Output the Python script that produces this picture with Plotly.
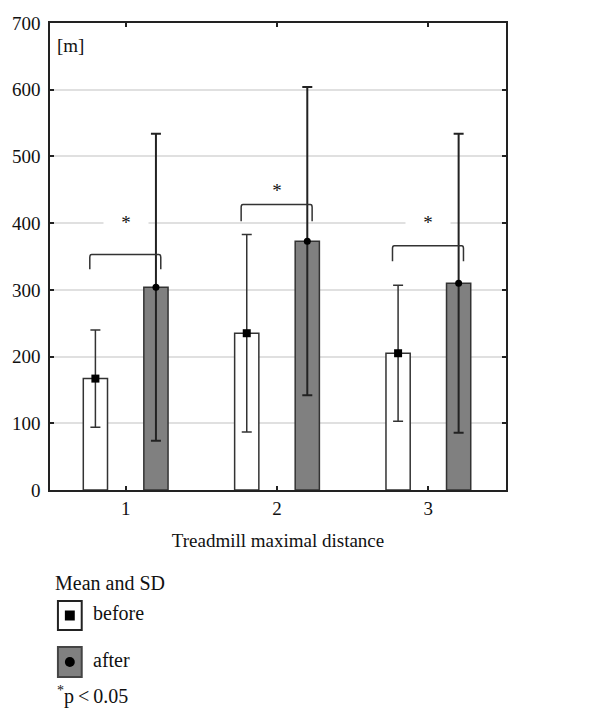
import plotly.graph_objects as go

categories = [1, 2, 3]
before_mean = [167, 235, 205]
before_sd = [73, 148, 102]
after_mean = [304, 373, 310]
after_sd = [230, 231, 224]
bracket_top = [353, 428, 366]
bracket_foot = [331, 403, 343]
star_y = [401, 450, 401]
y_ticks = [0, 100, 200, 300, 400, 500, 600, 700]

FONT = "Liberation Serif"
fig = go.Figure()

fig.add_trace(go.Bar(
    x=categories, y=before_mean, name="before", offsetgroup="b",
    marker=dict(color="white", line=dict(color="#333333", width=1.5)),
))
fig.add_trace(go.Bar(
    x=categories, y=after_mean, name="after", offsetgroup="a",
    marker=dict(color="#808080", line=dict(color="#333333", width=1.5)),
))
fig.add_trace(go.Scatter(
    x=categories, y=before_mean, mode="markers", offsetgroup="b",
    marker=dict(symbol="square", size=8, color="black"),
    error_y=dict(type="data", array=before_sd, color="#333333", thickness=1.5, width=5),
))
fig.add_trace(go.Scatter(
    x=categories, y=after_mean, mode="markers", offsetgroup="a",
    marker=dict(symbol="circle", size=7, color="black"),
    error_y=dict(type="data", array=after_sd, color="#222222", thickness=2, width=5),
))

fig.update_layout(
    width=612, height=721,
    margin=dict(l=46, r=106, t=23, b=231),
    paper_bgcolor="white", plot_bgcolor="white",
    barmode="group", bargap=0.2, bargroupgap=0.6,
    scattermode="group", scattergap=0.2,
    showlegend=False,
    font=dict(family=FONT, size=19, color="#111111"),
    xaxis=dict(
        range=[0.5, 3.513], tickvals=categories, ticktext=[str(c) for c in categories],
        showgrid=False, showline=True, linecolor="#222222", linewidth=1.5, mirror="allticks",
        ticks="inside", ticklen=4, tickwidth=1.5, tickcolor="#222222",
        title=dict(text="Treadmill maximal distance", font=dict(size=19), standoff=16),
        zeroline=False,
    ),
    yaxis=dict(
        range=[0, 700], tickvals=y_ticks,
        showgrid=True, gridcolor="#e0e0e0", gridwidth=2,
        showline=True, linecolor="#222222", linewidth=1.5, mirror="allticks",
        ticks="inside", ticklen=4, tickwidth=1.5, tickcolor="#222222",
        zeroline=False, ticklabelstandoff=4,
    ),
)

# brackets and asterisks
for c, top, foot, sy in zip(categories, bracket_top, bracket_foot, star_y):
    x0, x1 = c - 0.237, c + 0.232
    fig.add_shape(type="path", xref="x", yref="y",
                  path=f"M {x0},{foot} L {x0},{top-4} Q {x0},{top} {x0+0.012},{top} "
                       f"L {x1-0.012},{top} Q {x1},{top} {x1},{top-4} L {x1},{foot}",
                  line=dict(color="#333333", width=1.5))
    fig.add_annotation(x=c, y=sy, text="*", showarrow=False,
                       xref="x", yref="y", bgcolor="white", borderpad=0,
                       width=44, height=14,
                       font=dict(size=19, family=FONT))


def px(x):
    return (x - 46) / (612 - 46 - 106)


def py(y):
    return (490 - y) / (490 - 23)


fig.add_annotation(x=px(51), y=py(45), xref="paper", yref="paper", text="[m]",
                   showarrow=False, xanchor="left", yanchor="middle",
                   font=dict(size=19, family=FONT))

# legend (manual)
fig.add_annotation(x=px(49), y=py(583), xref="paper", yref="paper", text="Mean and SD",
                   showarrow=False, xanchor="left", yanchor="middle",
                   font=dict(size=20, family=FONT))
fig.add_shape(type="rect", xref="paper", yref="paper",
              x0=px(54), x1=px(78), y0=py(630), y1=py(601),
              line=dict(color="#222222", width=2), fillcolor="white")
fig.add_shape(type="rect", xref="paper", yref="paper",
              x0=px(61), x1=px(71), y0=py(620.5), y1=py(610.5),
              line=dict(width=0), fillcolor="black")
fig.add_shape(type="rect", xref="paper", yref="paper",
              x0=px(54), x1=px(78), y0=py(677), y1=py(647),
              line=dict(color="#444444", width=2), fillcolor="#808080")
fig.add_shape(type="circle", xref="paper", yref="paper",
              x0=px(61), x1=px(71), y0=py(667), y1=py(657),
              line=dict(width=0), fillcolor="black")
fig.add_annotation(x=px(87), y=py(613), xref="paper", yref="paper", text="before",
                   showarrow=False, xanchor="left", yanchor="middle",
                   font=dict(size=20, family=FONT))
fig.add_annotation(x=px(87), y=py(660), xref="paper", yref="paper", text="after",
                   showarrow=False, xanchor="left", yanchor="middle",
                   font=dict(size=20, family=FONT))
fig.add_annotation(x=px(51), y=py(695), xref="paper", yref="paper",
                   text="<sup>*</sup>p\u2009<\u20090.05",
                   showarrow=False, xanchor="left", yanchor="middle",
                   font=dict(size=20, family=FONT))

fig.write_html("out.html", config={"displayModeBar": False},
               post_script="document.body.style.margin='0';document.body.style.overflow='hidden';")
